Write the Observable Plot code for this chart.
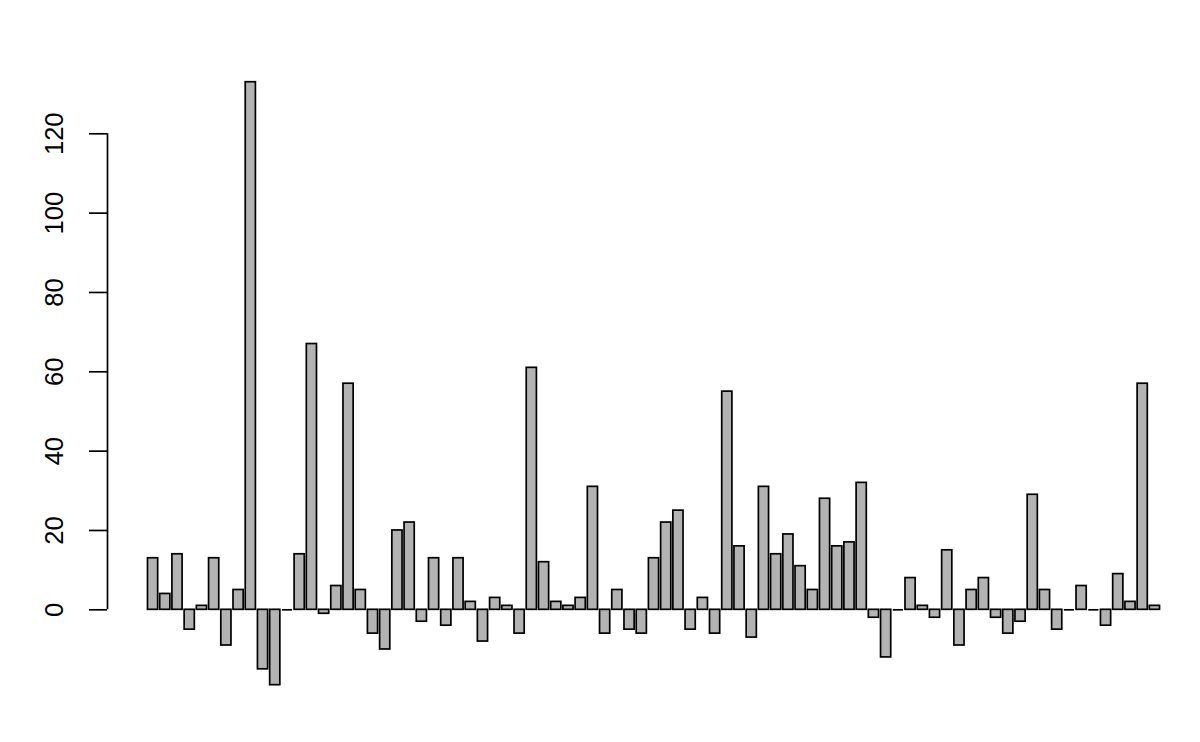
<!DOCTYPE html>
<html>
<head>
<meta charset="utf-8">
<script src="https://cdn.jsdelivr.net/npm/d3@7"></script>
<script src="https://cdn.jsdelivr.net/npm/@observablehq/plot@0.6"></script>
<style>
  html, body { margin: 0; padding: 0; background: #fff; }
  #chart svg { display: block; }
</style>
</head>
<body>
<div id="chart"></div>
<script>
// Bar heights, left to right
const values = [
  13, 4, 14, -5, 1, 13, -9, 5, 133, -15,
  -19, 0, 14, 67, -1, 6, 57, 5, -6, -10,
  20, 22, -3, 13, -4, 13, 2, -8, 3, 1,
  -6, 61, 12, 2, 1, 3, 31, -6, 5, -5,
  -6, 13, 22, 25, -5, 3, -6, 55, 16, -7,
  31, 14, 19, 11, 5, 28, 16, 17, 32, -2,
  -12, 0, 8, 1, -2, 15, -9, 5, 8, -2,
  -6, -3, 29, 5, -5, 0, 6, 0, -4, 9,
  2, 57, 1
];
// Y-axis tick values
const yTicks = [0, 20, 40, 60, 80, 100, 120];

// barplot geometry (R semantics: width 1, space 0.2)
const space = 0.2, barWidth = 1;
const bars = values.map((v, i) => {
  const x1 = space + i * (barWidth + space);
  return { i, v, x1, x2: x1 + barWidth };
});
const zeroBars = bars.filter(d => d.v === 0);
const lo = d3.min(bars, d => d.x1), hi = d3.max(bars, d => d.x2);
const xpad = 0.04 * (hi - lo);
const ylo = Math.min(0, d3.min(values)), yhi = Math.max(0, d3.max(values));
const ypad = 0.04 * (yhi - ylo);
const font = "'Liberation Sans', Arial, Helvetica, sans-serif";

const chart = Plot.plot({
  width: 1200,
  height: 742,
  marginLeft: 107,
  marginRight: 0,
  marginTop: 57.6,
  marginBottom: 33.2,
  style: { background: "#fff", fontFamily: font },
  x: { domain: [lo - xpad, hi + xpad], axis: null },
  y: { domain: [ylo - ypad, yhi + ypad], axis: null },
  marks: [
    Plot.rectY(bars.filter(d => d.v !== 0), {
      x1: "x1", x2: "x2", y1: 0, y2: "v",
      fill: "#b3b3b3", stroke: "#000", strokeWidth: 1.7
    }),
    Plot.ruleY(zeroBars, {
      x1: "x1", x2: "x2", y: "v",
      stroke: "#000", strokeWidth: 1.7
    }),
    Plot.ruleX([lo - xpad], {
      y1: d3.min(yTicks), y2: d3.max(yTicks),
      stroke: "#000", strokeWidth: 1.7
    }),
    Plot.axisY({
      ticks: yTicks, tickSize: 18, tickFormat: () => "", label: null,
      stroke: "#000", strokeWidth: 1.7, strokeOpacity: 1
    }),
    Plot.text(yTicks, {
      y: d => d, text: d => String(d),
      frameAnchor: "left", dx: -53, rotate: -90,
      textAnchor: "middle", lineAnchor: "middle",
      fontSize: 25.5, fontFamily: font, fill: "#000"
    })
  ]
});
document.getElementById("chart").appendChild(chart);
</script>
</body>
</html>
